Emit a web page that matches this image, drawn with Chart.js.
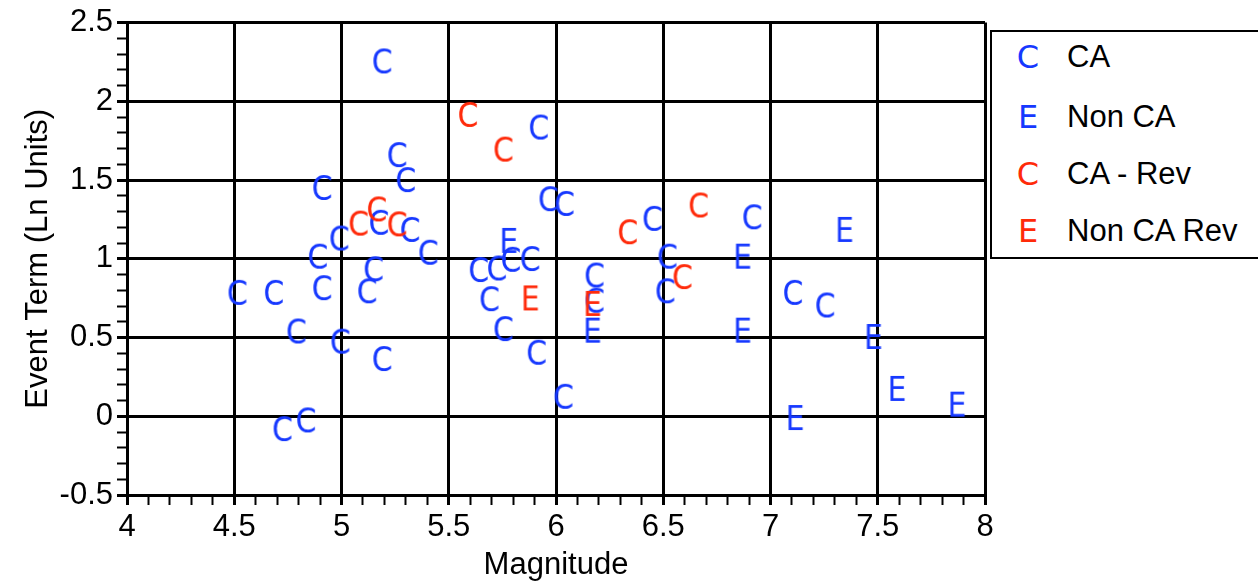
<!DOCTYPE html>
<html>
<head>
<meta charset="utf-8">
<script src="https://cdn.jsdelivr.net/npm/chart.js@4/dist/chart.umd.min.js"></script>
<style>
  html, body { margin: 0; padding: 0; background: #fff; overflow: hidden; }
  #wrap { position: relative; width: 1258px; height: 585px; }
  #legend { position: absolute; left: 990px; top: 30px; width: 290px; height: 229px;
            border: 2px solid #000; box-sizing: border-box; background: #fff;
            font-family: 'Liberation Sans', Arial, Helvetica, sans-serif; font-size: 31px; color: #000; }
  .row { position: absolute; left: 0; height: 40px; line-height: 40px; white-space: nowrap; }
  .mk { position: absolute; left: 24px; width: 24px; text-align: center; font-family: 'DejaVu Sans', sans-serif; font-size: 32px; }
  .lb { position: absolute; left: 75px; }
</style>
</head>
<body>
<div id="wrap">
  <canvas id="c" width="1258" height="585"></canvas>
  <div id="legend"></div>
</div>
<script>
// ---- data ----
const caMag  = [4.515, 4.685, 4.725, 4.79, 4.835, 4.89, 4.91, 4.91, 4.99, 4.995, 5.12, 5.15, 5.175, 5.19, 5.19, 5.26, 5.30, 5.32, 5.405, 5.64, 5.69, 5.725, 5.755, 5.79, 5.88, 5.91, 5.92, 5.965, 6.035, 6.04, 6.18, 6.18, 6.45, 6.51, 6.52, 6.915, 7.105, 7.255];
const caTerm = [0.79, 0.79, -0.075, 0.545, -0.02, 1.02, 1.456, 0.82, 1.135, 0.48, 0.80, 0.94, 1.235, 2.26, 0.37, 1.665, 1.506, 1.19, 1.045, 0.935, 0.75, 0.945, 0.56, 1.0, 1.005, 0.41, 1.84, 1.385, 0.13, 1.355, 0.9, 0.74, 1.26, 0.80, 1.02, 1.27, 0.79, 0.71];

const nonCaMag  = [5.78, 6.17, 6.87, 6.87, 7.115, 7.345, 7.48, 7.59, 7.87];
const nonCaTerm = [1.12, 0.55, 1.02, 0.55, -0.005, 1.19, 0.51, 0.18, 0.08];

const caRevMag  = [5.08, 5.165, 5.26, 5.59, 5.755, 6.335, 6.59, 6.665];
const caRevTerm = [1.23, 1.32, 1.225, 1.92, 1.70, 1.175, 0.89, 1.345];

const nonCaRevMag  = [5.88, 6.17];
const nonCaRevTerm = [0.755, 0.72];

const seriesNames   = ['CA', 'Non CA', 'CA - Rev', 'Non CA Rev'];
const seriesLetters = ['C', 'E', 'C', 'E'];
const xTitle = 'Magnitude';
const yTitle = 'Event Term (Ln Units)';

// ---- styling ----
const BLUE = '#1638ff';
const RED  = '#ff2a0a';
const seriesColors = [BLUE, BLUE, RED, RED];
const TXT = "'Liberation Sans', Arial, Helvetica, sans-serif";
const NARROW = "'Liberation Sans Narrow', 'Arial Narrow', 'Liberation Sans', Arial, sans-serif";

function glyph(letter, color) {
  const cv = document.createElement('canvas');
  cv.width = 32; cv.height = 36;
  const g = cv.getContext('2d');
  g.font = "34px 'DejaVu Sans', sans-serif";
  g.fillStyle = color;
  g.textAlign = 'center';
  g.textBaseline = 'alphabetic';
  const m = g.measureText(letter);
  const asc = m.actualBoundingBoxAscent, desc = m.actualBoundingBoxDescent;
  const y = cv.height / 2 + (asc - desc) / 2;
  g.save();
  g.translate(cv.width / 2, 0);
  g.scale(0.88, 1);
  g.fillText(letter, 0, y);
  g.restore();
  return cv;
}

function pts(xs, ys) { return xs.map((x, i) => ({ x: x, y: ys[i] })); }

const allX = [caMag, nonCaMag, caRevMag, nonCaRevMag];
const allY = [caTerm, nonCaTerm, caRevTerm, nonCaRevTerm];
const drawOrder = [3, 2, 1, 0];

const datasets = seriesNames.map((name, i) => ({
  label: name,
  data: pts(allX[i], allY[i]),
  pointStyle: glyph(seriesLetters[i], seriesColors[i]),
  pointRadius: 10,
  showLine: false,
  order: drawOrder[i]
}));

// legend (HTML)
const leg = document.getElementById('legend');
const rowCenters = [25, 85, 142, 199];
seriesNames.forEach((name, i) => {
  const r = document.createElement('div');
  r.className = 'row';
  r.style.top = (rowCenters[i] - 20) + 'px';
  r.innerHTML = '<span class="mk" style="color:' + seriesColors[i] + '">' + seriesLetters[i] + '</span><span class="lb">' + name + '</span>';
  leg.appendChild(r);
});

const isMajor = v => Math.abs(v * 2 - Math.round(v * 2)) < 1e-6;
const fmt = v => String(Math.round(v * 10) / 10);

function axis(min, max, titleText, tickFamily, fitFn, titlePad) {
  return {
    type: 'linear', min: min, max: max,
    ticks: {
      stepSize: 0.1, autoSkip: false, maxRotation: 0, minRotation: 0,
      padding: 4, color: '#000', font: { family: tickFamily, size: 31 },
      callback: v => isMajor(v) ? fmt(v) : ''
    },
    grid: {
      color: c => (c.tick && isMajor(c.tick.value)) ? '#000' : 'rgba(0,0,0,0)',
      lineWidth: c => (c.tick && isMajor(c.tick.value)) ? 3 : 1,
      tickColor: '#000',
      tickWidth: c => (c.tick && isMajor(c.tick.value)) ? 3 : 2,
      tickLength: 10, drawTicks: true
    },
    border: { color: '#000', width: 3 },
    title: { display: true, text: titleText, color: '#000', font: { family: TXT, size: 31 }, padding: titlePad },
    afterFit: fitFn
  };
}

new Chart(document.getElementById('c'), {
  type: 'scatter',
  data: { datasets: datasets },
  options: {
    responsive: false, animation: false, devicePixelRatio: 1,
    layout: { padding: { left: 0, right: 273, top: 21, bottom: 0 } },
    plugins: { legend: { display: false }, tooltip: { enabled: false } },
    scales: {
      x: axis(4, 8, xTitle, NARROW, s => { s.height = 90; }, { top: 0, bottom: 1 }),
      y: axis(-0.5, 2.5, yTitle, TXT, s => { s.width = 127; }, { top: 20, bottom: 0 })
    }
  }
});
</script>
</body>
</html>
